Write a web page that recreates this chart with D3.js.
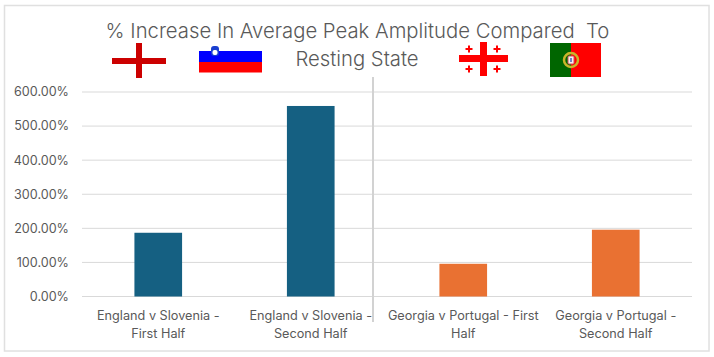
<!DOCTYPE html>
<html>
<head>
<meta charset="utf-8">
<script src="https://cdn.jsdelivr.net/npm/d3@7"></script>
<style>
    html, body { margin: 0; padding: 0; background: #fff; }
    svg { display: block; font-family: Inter, "Noto Sans", sans-serif; }
</style>
</head>
<body>
<svg id="chart" width="714" height="357"></svg>
<script>
let categories = [
    ['England v Slovenia -', 'First Half'],
    ['England v Slovenia -', 'Second Half'],
    ['Georgia v Portugal - First', 'Half'],
    ['Georgia v Portugal -', 'Second Half'],
]
let values = [187, 559, 96, 196]
let barColors = ['#156082', '#156082', '#e97132', '#e97132']
let tickValues = [0, 100, 200, 300, 400, 500, 600]
let titleLines = ['% Increase In Average Peak Amplitude Compared  To', 'Resting State']

let svg = d3.select('#chart')
let textColor = '#595959'
let gridColor = '#d9d9d9'

// chart frame
svg.append('rect')
    .attr('x', 4.5).attr('y', 5.5)
    .attr('width', 704.5).attr('height', 345.5)
    .attr('fill', '#fff')
    .attr('stroke', '#e0e0e0')
    .attr('stroke-width', 1.5)

let x = d3.scaleBand()
    .domain(d3.range(categories.length))
    .range([82, 692])
    .paddingInner(0.6875)
    .paddingOuter(0.34375)

let y = d3.scaleLinear()
    .domain([0, 600])
    .range([296.5, 92])

// gridlines
svg.append('g')
    .selectAll('line')
    .data(tickValues)
    .enter().append('line')
    .attr('x1', 82)
    .attr('x2', 692)
    .attr('y1', d => y(d))
    .attr('y2', d => y(d))
    .attr('stroke', gridColor)
    .attr('stroke-width', 1)

// y labels
svg.append('g')
    .selectAll('text')
    .data(tickValues)
    .enter().append('text')
    .attr('x', 69)
    .attr('y', d => y(d))
    .attr('dy', '.35em')
    .attr('text-anchor', 'end')
    .attr('font-size', 12.6)
    .attr('fill', textColor)
    .text(d => d3.format('.2f')(d) + '%')

// bars
svg.append('g')
    .selectAll('rect')
    .data(values)
    .enter().append('rect')
    .attr('x', (d, i) => x(i))
    .attr('width', x.bandwidth())
    .attr('y', d => y(d))
    .attr('height', d => y(0) - y(d))
    .attr('fill', (d, i) => barColors[i])

// x labels
let labels = svg.append('g')
    .selectAll('text')
    .data(categories)
    .enter().append('text')
    .attr('text-anchor', 'middle')
    .attr('font-size', 12.7)
    .attr('fill', textColor)
labels.selectAll('tspan')
    .data((d, i) => d.map(line => ({line, i})))
    .enter().append('tspan')
    .attr('x', d => x(d.i) + x.bandwidth() / 2)
    .attr('y', (d, j) => 320 + j * 17.5)
    .text(d => d.line)

// divider between the two matches
svg.append('line')
    .attr('x1', 373).attr('x2', 373)
    .attr('y1', 77).attr('y2', 322)
    .attr('stroke', '#d2d2d2')
    .attr('stroke-width', 2)

// title
svg.append('g')
    .selectAll('text')
    .data(titleLines)
    .enter().append('text')
    .attr('x', (d, i) => i === 0 ? 357.5 : 357)
    .attr('y', (d, i) => 38 + i * 28)
    .attr('text-anchor', 'middle')
    .attr('font-size', 20.3)
    .attr('font-weight', 300)
    .attr('fill', textColor)
    .style('white-space', 'pre')
    .text(d => d)

// flags
function drawEngland(g) {
    g.append('rect').attr('x', 112).attr('y', 43).attr('width', 54).attr('height', 35).attr('fill', '#fff')
    g.append('rect').attr('x', 112).attr('y', 58).attr('width', 54).attr('height', 6).attr('fill', '#cc0000')
    g.append('rect').attr('x', 136).attr('y', 43).attr('width', 6).attr('height', 35).attr('fill', '#cc0000')
}

function drawSlovenia(g) {
    g.append('rect').attr('x', 199).attr('y', 51).attr('width', 63).attr('height', 11).attr('fill', '#0000ff')
    g.append('rect').attr('x', 199).attr('y', 62).attr('width', 63).attr('height', 10.5).attr('fill', '#ff0000')
    g.append('rect').attr('x', 211).attr('y', 46).attr('width', 8).attr('height', 10).attr('rx', 3).attr('fill', '#1a3fd0')
    g.append('rect').attr('x', 212.5).attr('y', 50).attr('width', 5).attr('height', 5).attr('rx', 2).attr('fill', '#fff')
}

function drawGeorgia(g) {
    g.append('rect').attr('x', 459).attr('y', 55).attr('width', 49).attr('height', 7).attr('fill', '#ff0000')
    g.append('rect').attr('x', 480).attr('y', 42).attr('width', 7).attr('height', 34).attr('fill', '#ff0000')
    let corners = [[469, 49], [497, 49], [469, 69], [497, 69]]
    corners.forEach(c => {
        g.append('rect').attr('x', c[0] - 3.5).attr('y', c[1] - 1).attr('width', 7).attr('height', 2).attr('fill', '#ff0000')
        g.append('rect').attr('x', c[0] - 1).attr('y', c[1] - 3.5).attr('width', 2).attr('height', 7).attr('fill', '#ff0000')
    })
}

function drawPortugal(g) {
    g.append('rect').attr('x', 550).attr('y', 43).attr('width', 21).attr('height', 34).attr('fill', '#006600')
    g.append('rect').attr('x', 571).attr('y', 43).attr('width', 30).attr('height', 34).attr('fill', '#ff0000')
    g.append('circle').attr('cx', 571).attr('cy', 60).attr('r', 7).attr('fill', 'none').attr('stroke', '#c9b52a').attr('stroke-width', 2.5)
    g.append('rect').attr('x', 568).attr('y', 56).attr('width', 6).attr('height', 8).attr('rx', 1).attr('fill', '#f2f2f2').attr('stroke', '#d8505a').attr('stroke-width', 1)
    g.append('rect').attr('x', 570).attr('y', 58).attr('width', 2).attr('height', 4).attr('fill', '#6f86c4')
}

let flags = svg.append('g')
drawEngland(flags.append('g'))
drawSlovenia(flags.append('g'))
drawGeorgia(flags.append('g'))
drawPortugal(flags.append('g'))
</script>
</body>
</html>
